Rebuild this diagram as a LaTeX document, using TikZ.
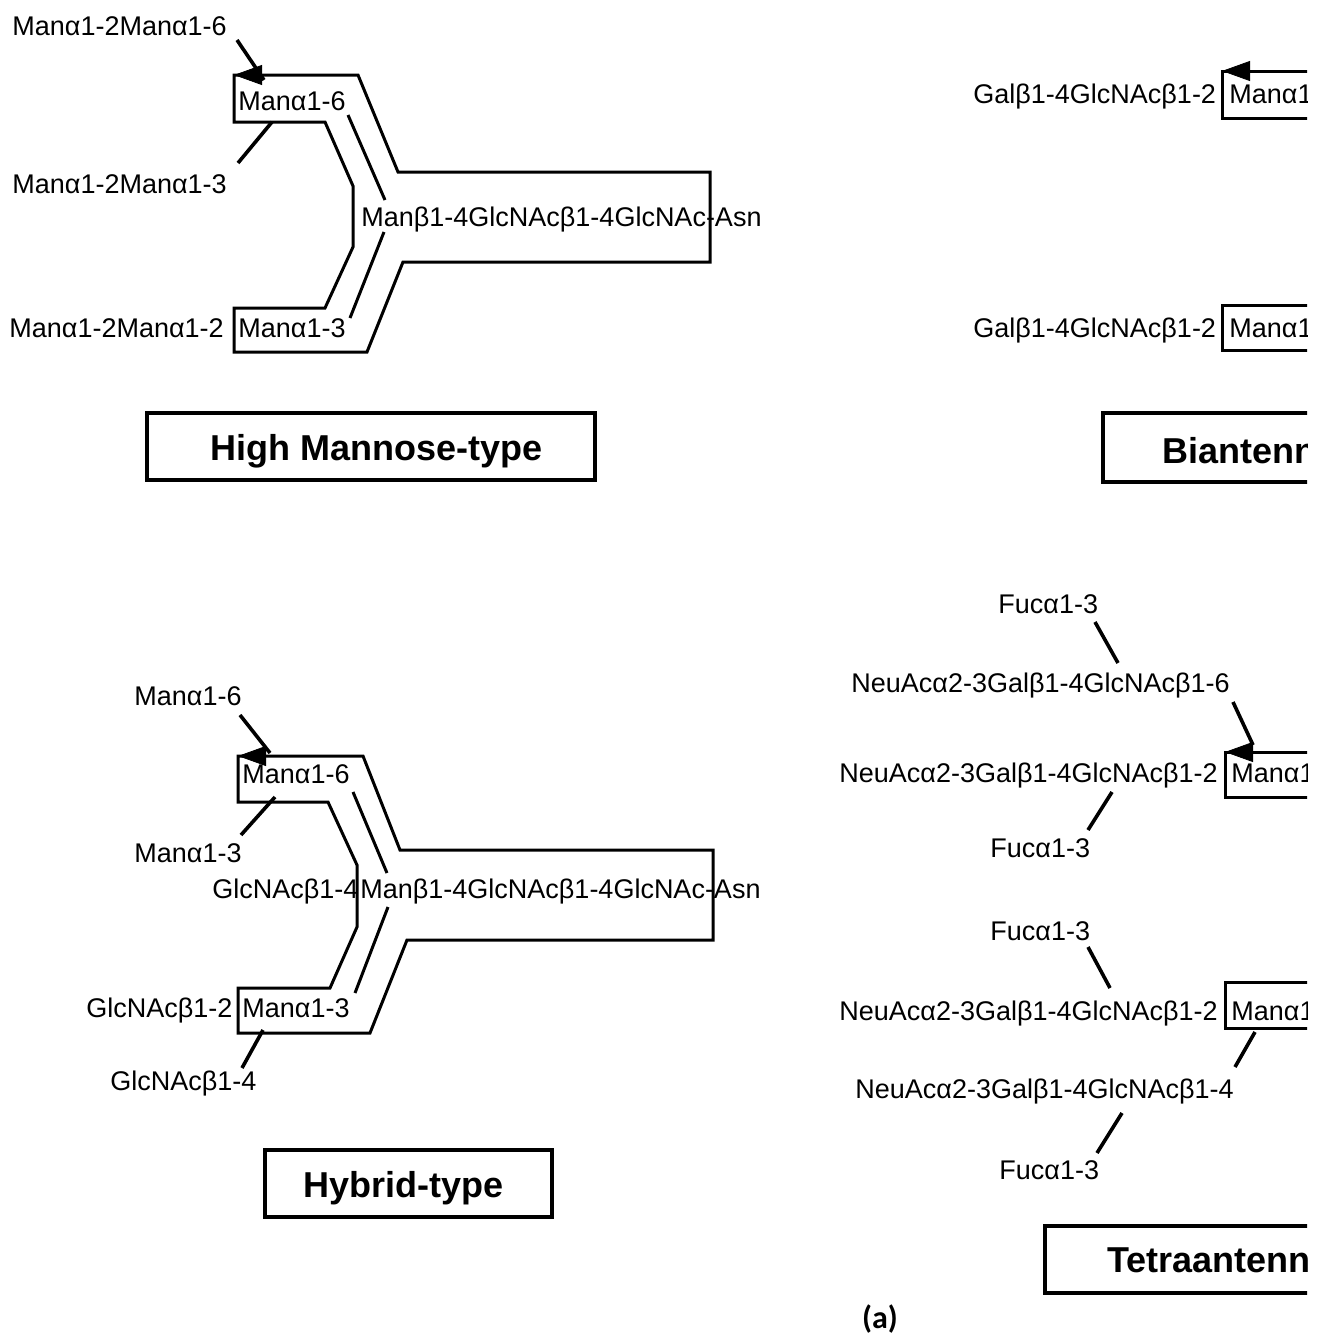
\documentclass[tikz,border=0pt]{standalone}
\usepackage{fontspec}
\setmainfont{Liberation Sans}
\newfontfamily\capfont{Carlito}
\usetikzlibrary{arrows.meta}

\begin{document}
\begin{tikzpicture}[x=0.5pt,y=-0.5pt,
		sugar/.style={anchor=base west, inner sep=0pt, font=\fontsize{13.5}{16}\selectfont},
		ttl/.style={anchor=base west, inner sep=0pt, font=\fontsize{18}{22}\selectfont\bfseries},
		contour/.style={line width=1.5pt, line join=miter},
		link/.style={line width=1.8pt},
		headtip/.style={-{Triangle[length=14pt,width=10pt]}}]
		\useasboundingbox (0,0) rectangle (1322,1333);
		\begin{scope}
		\clip (0,0) rectangle (1307,1333);

		% high mannose-type
		\draw[contour] (234,75) -- (358,75) -- (398,172) -- (710,172) -- (710,262) -- (403,262) -- (367,352) -- (234,352) -- (234,308) -- (325,308) -- (353,247) -- (353,186) -- (325,122) -- (234,122) -- cycle;
		\draw[contour] (348,115) -- (385,200);
		\draw[contour] (384,232) -- (350,318);
		\node[sugar] (hmA) at (12,35) {Manα1-2Manα1-6};
		\node[sugar] (hmB) at (238,110) {Manα1-6};
		\node[sugar] (hmC) at (12,193) {Manα1-2Manα1-3};
		\node[sugar] (hmCore) at (361,226) {Manβ1-4GlcNAcβ1-4GlcNAc-Asn};
		\node[sugar] (hmD) at (9,337) {Manα1-2Manα1-2};
		\node[sugar] (hmE) at (238,337) {Manα1-3};
		\coordinate (hmA1) at (237,40);
		\coordinate (hmA2) at (264,80);
		\coordinate (hmC1) at (238,163);
		\coordinate (hmC2) at (272,122);
		\coordinate (hmTip) at (234,75);
		\draw[link] (hmA1) -- (hmA2);
		\draw[link] (hmC1) -- (hmC2);
		\draw[headtip] (hmTip) ++(30,0) -- (hmTip);
		\node[ttl] (hmT) at (210,460) {High Mannose-type};
		\draw[line width=1.8pt] (147,413) rectangle (595,480);

		% hybrid-type
		\draw[contour] (238,756) -- (363,756) -- (400,850) -- (713,850) -- (713,940) -- (407,940) -- (370,1033) -- (238,1033) -- (238,988) -- (330,988) -- (357,927) -- (357,865) -- (328,802) -- (238,802) -- cycle;
		\draw[contour] (353,792) -- (387,873);
		\draw[contour] (388,907) -- (355,993);
		\node[sugar] (hyA) at (134,705) {Manα1-6};
		\node[sugar] (hyB) at (242,783) {Manα1-6};
		\node[sugar] (hyC) at (134,862) {Manα1-3};
		\node[sugar] (hyG) at (212,898) {GlcNAcβ1-4};
		\node[sugar] (hyCore) at (360,898) {Manβ1-4GlcNAcβ1-4GlcNAc-Asn};
		\node[sugar] (hyD) at (86,1017) {GlcNAcβ1-2};
		\node[sugar] (hyE) at (242,1017) {Manα1-3};
		\node[sugar] (hyF) at (110,1090) {GlcNAcβ1-4};
		\coordinate (hyA1) at (240,715);
		\coordinate (hyA2) at (270,753);
		\coordinate (hyC1) at (241,835);
		\coordinate (hyC2) at (275,797);
		\coordinate (hyF1) at (242,1068);
		\coordinate (hyF2) at (263,1030);
		\coordinate (hyTip) at (238,756);
		\draw[link] (hyA1) -- (hyA2);
		\draw[link] (hyC1) -- (hyC2);
		\draw[link] (hyF1) -- (hyF2);
		\draw[headtip] (hyTip) ++(30,0) -- (hyTip);
		\node[ttl] (hyT) at (303,1197) {Hybrid-type};
		\draw[line width=1.8pt] (265,1150) rectangle (552,1217);

		% biantennary
		\draw[contour] (1340,71) -- (1222,71) -- (1222,118) -- (1340,118);
		\draw[contour] (1340,305) -- (1222,305) -- (1222,350) -- (1340,350);
		\node[sugar] (biA) at (973,103) {Galβ1-4GlcNAcβ1-2};
		\node[sugar] (biAm) at (1229,103) {Manα1-6};
		\node[sugar] (biB) at (973,337) {Galβ1-4GlcNAcβ1-2};
		\node[sugar] (biBm) at (1229,337) {Manα1-3};
		\coordinate (biTip) at (1222,71);
		\draw[headtip] (biTip) ++(30,0) -- (biTip);
		\node[ttl] (biT) at (1162,463) {Biantennary};
		\draw[line width=1.8pt] (1340,413) -- (1103,413) -- (1103,482) -- (1340,482);

		% tetraantennary
		\draw[contour] (1340,752) -- (1225,752) -- (1225,797) -- (1340,797);
		\draw[contour] (1340,982) -- (1225,982) -- (1225,1028) -- (1340,1028);
		\node[sugar] (teF1) at (998,613) {Fucα1-3};
		\node[sugar] (teA) at (851,692) {NeuAcα2-3Galβ1-4GlcNAcβ1-6};
		\node[sugar] (teB) at (839,782) {NeuAcα2-3Galβ1-4GlcNAcβ1-2};
		\node[sugar] (teBm) at (1231,782) {Manα1-6};
		\node[sugar] (teF2) at (990,857) {Fucα1-3};
		\node[sugar] (teF3) at (990,940) {Fucα1-3};
		\node[sugar] (teC) at (839,1020) {NeuAcα2-3Galβ1-4GlcNAcβ1-2};
		\node[sugar] (teCm) at (1231,1020) {Manα1-3};
		\node[sugar] (teD) at (855,1098) {NeuAcα2-3Galβ1-4GlcNAcβ1-4};
		\node[sugar] (teF4) at (999,1179) {Fucα1-3};
		\coordinate (teF1a) at (1095,622);
		\coordinate (teF1b) at (1118,663);
		\coordinate (teA1) at (1233,702);
		\coordinate (teA2) at (1253,745);
		\coordinate (teF2a) at (1112,792);
		\coordinate (teF2b) at (1088,830);
		\coordinate (teF3a) at (1088,947);
		\coordinate (teF3b) at (1110,988);
		\coordinate (teD1) at (1255,1032);
		\coordinate (teD2) at (1235,1067);
		\coordinate (teF4a) at (1122,1113);
		\coordinate (teF4b) at (1097,1153);
		\coordinate (teTip) at (1225,752);
		\foreach \a/\b in {teF1a/teF1b, teA1/teA2, teF2a/teF2b, teF3a/teF3b, teD1/teD2, teF4a/teF4b}
			\draw[link] (\a) -- (\b);
		\draw[headtip] (teTip) ++(30,0) -- (teTip);
		\node[ttl] (teT) at (1107,1272) {Tetraantennary};
		\draw[line width=1.8pt] (1340,1226) -- (1045,1226) -- (1045,1293) -- (1340,1293);
		\end{scope}

		\node[font=\capfont\bfseries\fontsize{16}{19}\selectfont, inner sep=0pt] (cap) at (880,1319) {(a)};
\end{tikzpicture}
\end{document}
